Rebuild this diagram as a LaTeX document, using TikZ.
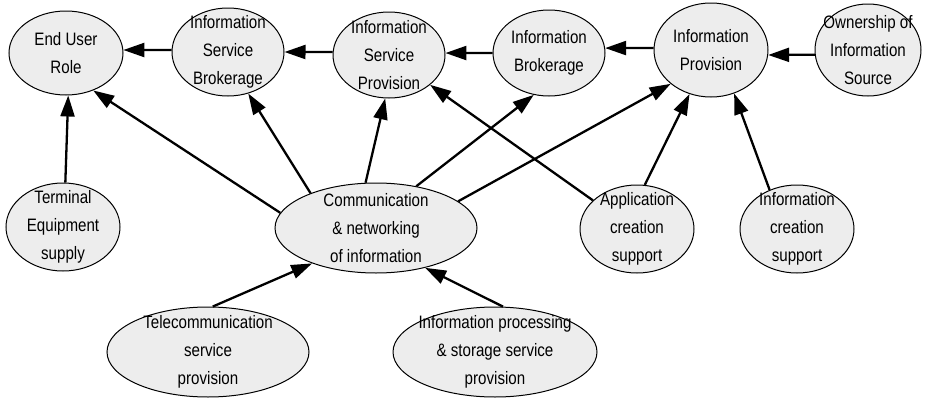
\documentclass[tikz,border=0pt]{standalone}
\usepackage{fontspec}
\setmainfont{Liberation Sans}[FakeStretch=0.84]
\usetikzlibrary{shapes.geometric,arrows.meta}
\begin{document}
\begin{tikzpicture}[x=1pt,y=-1pt,
  ell/.style={ellipse, draw=black, line width=1pt, fill=gray!14, inner sep=0pt},
  txt/.style={align=center, font=\fontsize{18}{28}\selectfont, inner sep=0pt},
  arr/.style={line width=2.3pt, -{Triangle[length=21pt,width=14pt]}}]
\useasboundingbox (0,0) rectangle (932,399);
% nodes
\node[ell, minimum width=114pt, minimum height=84pt, label={[txt]center:{End User\\Role}}] (eur) at (66,53) {};
\node[ell, minimum width=112pt, minimum height=88pt, label={[txt]center:{Information\\Service\\Brokerage}}] (isb) at (228,52) {};
\node[ell, minimum width=112pt, minimum height=86pt, label={[txt]center:{Information\\Service\\Provision}}] (isp) at (389,55) {};
\node[ell, minimum width=112pt, minimum height=86pt, label={[txt]center:{Information\\Brokerage}}] (ib) at (549,53) {};
\node[ell, minimum width=114pt, minimum height=94pt, label={[txt]center:{Information\\Provision}}] (ip) at (711,50) {};
\node[ell, minimum width=106pt, minimum height=92pt, label={[txt]center:{Ownership of\\Information\\Source}}] (own) at (868,50) {};
\node[ell, minimum width=114pt, minimum height=88pt, label={[txt]center:{Terminal\\Equipment\\supply}}] (term) at (63,227) {};
\node[ell, minimum width=202pt, minimum height=90pt, label={[txt]center:{Communication\\\& networking\\of information}}] (comm) at (376,228) {};
\node[ell, minimum width=114pt, minimum height=88pt, label={[txt]center:{Application\\creation\\support}}] (app) at (637,229) {};
\node[ell, minimum width=114pt, minimum height=88pt, label={[txt]center:{Information\\creation\\support}}] (ic) at (797,229) {};
\node[ell, minimum width=202pt, minimum height=90pt, label={[txt]center:{Telecommunication\\service\\provision}}] (tel) at (208,352) {};
\node[ell, minimum width=204pt, minimum height=90pt, label={[txt]center:{Information processing\\\& storage service\\provision}}] (proc) at (495,352) {};
% top row arrows
\draw[arr] (isb.178) -- (eur.3);
\draw[arr] (isp.177) -- (isb.0);
\draw[arr] (ib.180) -- (isp.2);
\draw[arr] (ip.178) -- (ib.5);
\draw[arr] (own.185) -- (ip.355);
% others
\draw[arr] (term.87) -- (eur.273);
\draw[arr] (comm.171) -- (eur.306);
\draw[arr] (comm.152) -- (isb.296);
\draw[arr] (comm.103) -- (isp.265);
\draw[arr] (comm.46) -- (ib.250);
\draw[arr] (comm.18) -- (ip.220);
\draw[arr] (app.147) -- (isp.324);
\draw[arr] (app.80) -- (ip.244);
\draw[arr] (ic.125) -- (ip.298);
\draw[arr] (tel.84) -- (comm.209);
\draw[arr] (proc.80) -- (comm.321);
\end{tikzpicture}
\end{document}
